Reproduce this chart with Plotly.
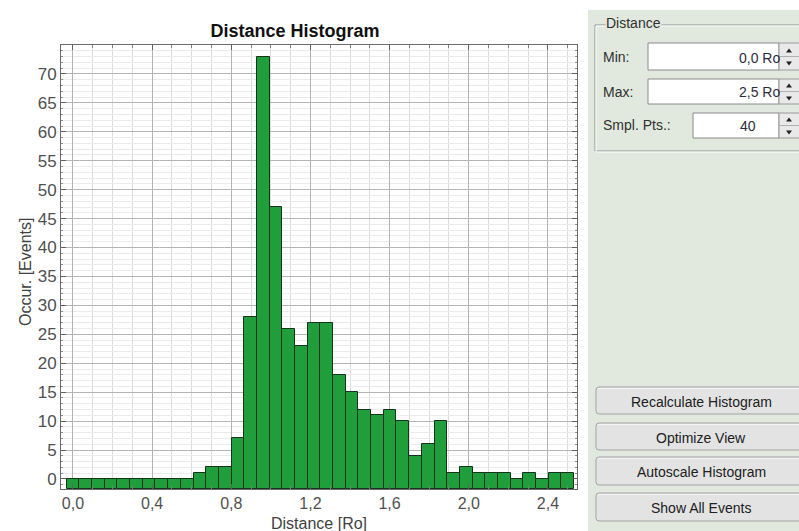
import plotly.graph_objects as go

# ---------------- data ----------------
D_MIN = 0.0          # "Min:" field
D_MAX = 2.5          # "Max:" field
SMPL_PTS = 40        # "Smpl. Pts.:" field
# bin centres: SMPL_PTS sample points spanning [D_MIN, D_MAX]
distance = [D_MIN + i * (D_MAX - D_MIN) / (SMPL_PTS - 1) for i in range(SMPL_PTS)]
occurrences = [0, 0, 0, 0, 0, 0, 0, 0, 0, 0,
               1, 2, 2, 7, 28, 73, 47, 26, 23, 27,
               27, 18, 15, 12, 11, 12, 10, 4, 6, 10,
               1, 2, 1, 1, 1, 0, 1, 0, 1, 1]
x_ticks = [0.0, 0.4, 0.8, 1.2, 1.6, 2.0, 2.4]
y_ticks = [0, 5, 10, 15, 20, 25, 30, 35, 40, 45, 50, 55, 60, 65, 70]
X_RANGE = [-0.0606, 2.547]
Y_RANGE = [-1.73, 75.0]

field_labels = ["Min:", "Max:", "Smpl. Pts.:"]
field_values = ["0,0 Ro", "2,5 Ro", "40"]
button_labels = ["Recalculate Histogram", "Optimize View",
                 "Autoscale Histogram", "Show All Events"]

# ---------------- layout geometry (pixels) ----------------
W, H = 799, 531
PL, PR, PT, PB = 61, 577, 45, 489
FONT = "Liberation Sans, Arial, sans-serif"
PANEL = "#e1e9df"


def px(x):
    return (x - PL) / (PR - PL)


def py(y):
    return (PB - y) / (PB - PT)


def rect(x0, y0, x1, y1, fill, line="rgba(0,0,0,0)", lw=1):
    return dict(type="rect", xref="paper", yref="paper",
                x0=px(x0), x1=px(x1), y0=py(y0), y1=py(y1),
                fillcolor=fill, line=dict(color=line, width=lw), layer="above")


def path(points, fill, line="rgba(0,0,0,0)", lw=1, closed=True):
    s = "M " + " L ".join(f"{px(a):.5f},{py(b):.5f}" for a, b in points)
    if closed:
        s += " Z"
    return dict(type="path", xref="paper", yref="paper", path=s,
                fillcolor=fill, line=dict(color=line, width=lw), layer="above")


def rrect(x0, y0, x1, y1, r, fill, line):
    def p(a, b):
        return f"{px(a):.5f},{py(b):.5f}"
    s = (f"M {p(x0+r,y0)} L {p(x1-r,y0)} Q {p(x1,y0)} {p(x1,y0+r)} "
         f"L {p(x1,y1-r)} Q {p(x1,y1)} {p(x1-r,y1)} L {p(x0+r,y1)} "
         f"Q {p(x0,y1)} {p(x0,y1-r)} L {p(x0,y0+r)} Q {p(x0,y0)} {p(x0+r,y0)} Z")
    return dict(type="path", xref="paper", yref="paper", path=s,
                fillcolor=fill, line=dict(color=line, width=1), layer="above")


def text(x, y, s, size=14, color="#303030", xanchor="left", bold=False, bg=None, angle=0):
    return dict(xref="paper", yref="paper", x=px(x), y=py(y), text=f"<b>{s}</b>" if bold else s,
                showarrow=False, xanchor=xanchor, yanchor="middle", textangle=angle,
                font=dict(family=FONT, size=size, color=color),
                bgcolor=bg, borderpad=0)


fig = go.Figure()
fig.add_trace(go.Bar(
    x=distance,
    y=[c - Y_RANGE[0] for c in occurrences],
    base=Y_RANGE[0],
    marker=dict(color="#1f9e3b", line=dict(color="#15331a", width=1)),
    customdata=occurrences,
    hovertemplate="%{x:.3f}: %{customdata}<extra></extra>",
))

shapes = []
annotations = []

# right-hand control panel
shapes.append(rect(588, 10, 805, 540, PANEL))
# group box "Distance"
shapes.append(rect(595, 25, 810, 151, "rgba(0,0,0,0)", "#8c918b", 1))
shapes.append(rect(596, 26, 811, 152, "rgba(0,0,0,0)", "#ffffff", 1))
annotations.append(text(605, 23, "Distance", size=14, bg=PANEL))

field_rows = [(43, 70), (79, 104), (113, 138)]
field_x0 = [648, 648, 693]
for (y0, y1), lab, val, fx in zip(field_rows, field_labels, field_values, field_x0):
    ym = (y0 + y1) / 2
    annotations.append(text(602, ym, lab, size=14))
    shapes.append(rect(fx, y0, 779, y1, "#ffffff", "#8a8a8a", 1))
    annotations.append(text(781 if val.endswith("Ro") else 757, ym + 1, val, size=14,
                            color="#2c2c40", xanchor="right"))
    # spinner
    shapes.append(rect(779, y0, 805, y1, "#e9e9e9", "#9a9a9a", 1))
    shapes.append(path([(779, ym), (805, ym)], "rgba(0,0,0,0)", "#b0b0b0", 1, closed=False))
    shapes.append(path([(786, ym - 4), (792, ym - 4), (789, ym - 8)], "#202020"))
    shapes.append(path([(786, ym + 5), (792, ym + 5), (789, ym + 9)], "#202020"))

button_rows = [(387, 414), (423, 450), (457, 485), (493, 521)]
for (y0, y1), lab in zip(button_rows, button_labels):
    shapes.append(rrect(596, y0, 812, y1, 3, "#e3e3e3", "#a3a3a3"))
    shapes.append(path([(598, y0 + 1.5), (810, y0 + 1.5)], "rgba(0,0,0,0)", "#f6f6f6", 1, closed=False))
    annotations.append(text(701, (y0 + y1) / 2 + 1, lab, size=14, color="#202020", xanchor="center"))

# axis titles
annotations.append(text(319, 523, "Distance [Ro]", size=16, color="#404040", xanchor="center"))
annotations.append(text(25, 272, "Occur. [Events]", size=16, color="#404040",
                        xanchor="center", angle=-90))

fig.update_layout(
    width=W, height=H,
    margin=dict(l=PL, r=W - PR, t=PT, b=H - PB, pad=0),
    paper_bgcolor="#ffffff", plot_bgcolor="#ffffff",
    separators=",.",
    bargap=0,
    showlegend=False,
    title=dict(text="<b>Distance Histogram</b>", x=295 / W, xanchor="center",
               y=1 - 31 / H, yanchor="middle",
               font=dict(family=FONT, size=18, color="#101010")),
    font=dict(family=FONT),
    shapes=shapes,
    annotations=annotations,
)
fig.update_xaxes(
    range=X_RANGE, tickvals=x_ticks, tickformat=".1f",
    ticks="inside", ticklen=5, tickcolor="#606060",
    showline=True, linecolor="#6a6a6a", linewidth=1, mirror="allticks",
    showgrid=True, gridcolor="#b4b4b4", gridwidth=1, zeroline=False,
    minor=dict(dtick=0.1, tick0=0, showgrid=True, gridcolor="#dcdcdc",
               ticks="inside", ticklen=3, tickcolor="#808080"),
    tickfont=dict(family=FONT, size=16, color="#505050"),
    automargin=False,
)
fig.update_yaxes(
    range=Y_RANGE, tickvals=y_ticks,
    ticks="inside", ticklen=5, tickcolor="#606060",
    showline=True, linecolor="#6a6a6a", linewidth=1, mirror="allticks",
    showgrid=True, gridcolor="#b4b4b4", gridwidth=1, zeroline=False,
    minor=dict(dtick=1, tick0=0, showgrid=True, gridcolor="#ebebeb",
               ticks="inside", ticklen=2, tickcolor="#909090"),
    tickfont=dict(family=FONT, size=17, color="#505050"),
    automargin=False,
)

fig.write_html("out.html", config={"displayModeBar": False},
               post_script="document.body.style.margin='0px';document.body.style.overflow='hidden';")
